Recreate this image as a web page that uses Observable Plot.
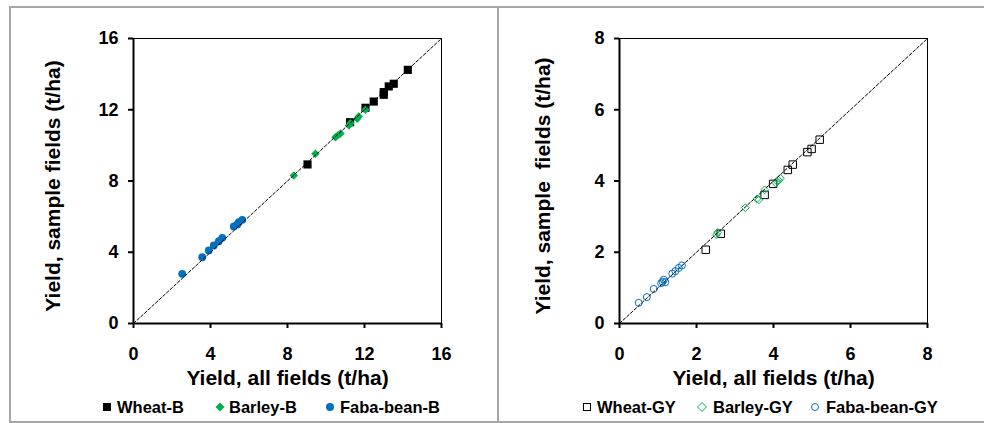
<!DOCTYPE html>
<html>
<head>
<meta charset="utf-8">
<script src="https://cdn.jsdelivr.net/npm/d3@7"></script>
<script src="https://cdn.jsdelivr.net/npm/@observablehq/plot@0.6"></script>
<style>
  html, body { margin: 0; padding: 0; background: #fff; }
  body { width: 984px; height: 423px; position: relative; overflow: hidden;
         font-family: "Liberation Sans", Arial, sans-serif; font-weight: bold; color: #000; }
  .panel { position: absolute; top: 0; }
  .leg { position: absolute; top: 397px; height: 20px; display: flex; align-items: center;
         font-size: 16.5px; font-weight: bold; white-space: nowrap; }
  .leg svg { position: absolute; top: 0; overflow: visible; }
  .line { position: absolute; background: #a6a6a6; }
</style>
</head>
<body>
<div class="line" style="left:9px;top:6px;width:975px;height:2px"></div>
<div class="line" style="left:9px;top:6px;width:2px;height:417px"></div>
<div class="line" style="left:497px;top:6px;width:2px;height:417px"></div>
<div class="line" style="left:9px;top:421px;width:975px;height:2px"></div>
<div id="p1" class="panel" style="left:0px"></div>
<div id="p2" class="panel" style="left:486px"></div>
<div id="legend"></div>
<script>
// ---- Data ----
// Panel 1: biomass (t/ha), [all fields, sample fields]
const wheatB = [[9.04,8.93],[11.25,11.30],[12.05,12.11],[12.48,12.46],[13.00,12.99],[13.00,12.84],[13.26,13.31],[13.52,13.46],[14.25,14.24]];
const barleyB = [[8.33,8.31],[9.45,9.53],[10.49,10.46],[10.61,10.56],[10.75,10.67],[11.19,11.12],[11.27,11.25],[11.62,11.49],[11.70,11.62],[12.05,12.00]];
const fabaB = [[2.53,2.79],[3.57,3.72],[3.91,4.10],[4.17,4.38],[4.43,4.62],[4.61,4.81],[5.21,5.45],[5.39,5.56],[5.47,5.69],[5.65,5.82]];
// Panel 2: grain yield (t/ha)
const wheatGY = [[2.24,2.07],[2.63,2.52],[3.77,3.61],[3.99,3.92],[4.37,4.31],[4.50,4.46],[4.88,4.81],[4.99,4.90],[5.20,5.16]];
const barleyGY = [[2.52,2.49],[2.55,2.56],[3.27,3.25],[3.57,3.50],[3.62,3.47],[3.77,3.75],[4.05,3.95],[4.10,3.98],[4.13,4.02],[4.18,4.08]];
const fabaGY = [[0.50,0.58],[0.71,0.74],[0.89,0.97],[1.08,1.13],[1.12,1.17],[1.15,1.23],[1.19,1.16],[1.37,1.40],[1.45,1.47],[1.54,1.56],[1.62,1.63]];

const ticksB = [0, 4, 8, 12, 16];
const ticksGY = [0, 2, 4, 6, 8];
const domainB = [0, 16];
const domainGY = [0, 8];
const xTitle = "Yield, all fields (t/ha)";
const yTitleB = "Yield, sample fields (t/ha)";
const yTitleGY = "Yield, sample  fields (t/ha)";
const legendB = ["Wheat-B", "Barley-B", "Faba-bean-B"];
const legendGY = ["Wheat-GY", "Barley-GY", "Faba-bean-GY"];

const BLACK = "#000000", GREEN = "#00b050", BLUE = "#0070c0";

function panel({domain, ticks, series, yTitle, yTitleDx}) {
  const marks = [
    Plot.frame({stroke: BLACK, strokeWidth: 1}),
    Plot.ruleX([domain[0]], {stroke: BLACK, strokeWidth: 2}),
    Plot.ruleY([domain[0]], {stroke: BLACK, strokeWidth: 2}),
    Plot.axisX({ticks, tickSize: 5, tickPadding: 19, strokeWidth: 2, label: null,
                fontSize: 18, fontWeight: "bold", tickFormat: d => String(d)}),
    Plot.axisY({ticks, tickSize: 5, tickPadding: 10, strokeWidth: 2, label: null,
                fontSize: 18, fontWeight: "bold", tickFormat: d => String(d)})
  ];
  for (const s of series) {
    marks.push(Plot.dot(s.data, {x: d => d[0], y: d => d[1], symbol: s.symbol, r: s.r,
      fill: s.filled ? s.color : "none", stroke: s.filled ? "none" : s.color, strokeWidth: 1}));
  }
  marks.push(Plot.line([domain[0], domain[1]], {x: d => d, y: d => d, stroke: BLACK,
    strokeWidth: 1, strokeDasharray: "3,2"}));
  marks.push(Plot.text([xTitle], {frameAnchor: "bottom", dy: 55, fontSize: 21,
    fontWeight: "bold", textAnchor: "middle", lineAnchor: "middle", text: d => d}));
  marks.push(Plot.text([yTitle], {frameAnchor: "left", rotate: -90, dx: yTitleDx, dy: 5,
    fontSize: 21, fontWeight: "bold", textAnchor: "middle", lineAnchor: "middle", text: d => d}));
  return Plot.plot({
    width: 490, height: 395,
    marginLeft: 133, marginRight: 49, marginTop: 38, marginBottom: 72,
    x: {domain, nice: false},
    y: {domain, nice: false},
    style: {fontFamily: '"Liberation Sans", Arial, sans-serif', fontWeight: "bold",
            fontSize: "18px", color: "#000", background: "transparent", overflow: "visible"},
    marks
  });
}

document.getElementById("p1").append(panel({
  domain: domainB, ticks: ticksB, yTitle: yTitleB, yTitleDx: -80,
  series: [
    {data: wheatB, symbol: "square", r: 4.6, color: BLACK, filled: true},
    {data: barleyB, symbol: "diamond2", r: 3.8, color: GREEN, filled: true},
    {data: fabaB, symbol: "circle", r: 3.9, color: BLUE, filled: true}
  ]
}));
document.getElementById("p2").append(panel({
  domain: domainGY, ticks: ticksGY, yTitle: yTitleGY, yTitleDx: -76,
  series: [
    {data: wheatGY, symbol: "square", r: 4.2, color: BLACK, filled: false},
    {data: barleyGY, symbol: "diamond2", r: 3.5, color: GREEN, filled: false},
    {data: fabaGY, symbol: "circle", r: 3.5, color: BLUE, filled: false}
  ]
}));

// ---- Legends ----
function markerSvg(kind, color, filled) {
  const f = filled ? color : "#fff", st = filled ? "none" : color;
  let shape;
  if (kind === "square") shape = filled ? `<rect x="-4" y="-4" width="8" height="8" fill="${f}"/>`
                                        : `<rect x="-3.5" y="-3.5" width="7" height="7" fill="${f}" stroke="${st}" stroke-width="1"/>`;
  else if (kind === "diamond") shape = filled ? `<path d="M0,-4.5L4.5,0L0,4.5L-4.5,0Z" fill="${f}"/>`
                                        : `<path d="M0,-4.5L4.5,0L0,4.5L-4.5,0Z" fill="${f}" stroke="${st}" stroke-width="1"/>`;
  else shape = filled ? `<circle r="4" fill="${f}"/>` : `<circle r="3.5" fill="${f}" stroke="${st}" stroke-width="1"/>`;
  return shape;
}
const legItems = [
  {label: legendB[0], kind: "square", color: BLACK, filled: true, mx: 107, tx: 117},
  {label: legendB[1], kind: "diamond", color: GREEN, filled: true, mx: 220, tx: 229},
  {label: legendB[2], kind: "circle", color: BLUE, filled: true, mx: 330, tx: 340},
  {label: legendGY[0], kind: "square", color: BLACK, filled: false, mx: 587, tx: 597},
  {label: legendGY[1], kind: "diamond", color: GREEN, filled: false, mx: 702, tx: 713},
  {label: legendGY[2], kind: "circle", color: BLUE, filled: false, mx: 815, tx: 826}
];
const legendEl = document.getElementById("legend");
for (const it of legItems) {
  const m = document.createElement("div");
  m.className = "leg";
  m.style.left = (it.mx - 6) + "px";
  m.innerHTML = `<svg width="12" height="20" viewBox="-6 -10 12 20">${markerSvg(it.kind, it.color, it.filled)}</svg>`;
  legendEl.append(m);
  const t = document.createElement("div");
  t.className = "leg";
  t.style.left = it.tx + "px";
  t.textContent = it.label;
  legendEl.append(t);
}
</script>
</body>
</html>
